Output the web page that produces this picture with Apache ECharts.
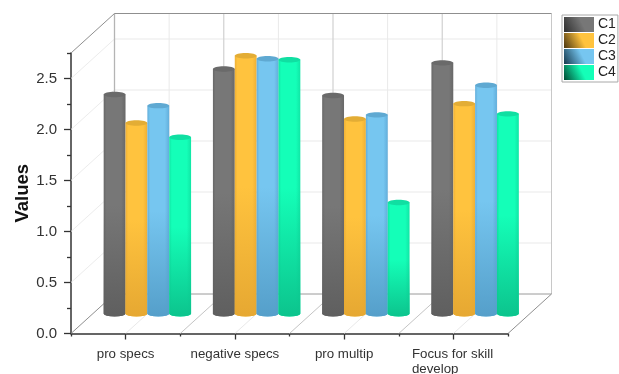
<!DOCTYPE html>
<html><head><meta charset="utf-8">
<style>html,body{margin:0;padding:0;background:#fff}#c{width:619px;height:374px}</style>
<script src="https://cdn.jsdelivr.net/npm/echarts@6/dist/echarts.min.js"></script>
</head><body><div id="c"></div>
<script>
const categories = ['pro specs', 'negative specs', 'pro multip', 'Focus for skill\ndevelop'];
const seriesNames = ['C1', 'C2', 'C3', 'C4'];
const C1 = [2.15, 2.40, 2.14, 2.46];
const C2 = [1.87, 2.53, 1.91, 2.06];
const C3 = [2.04, 2.50, 1.95, 2.24];
const C4 = [1.73, 2.49, 1.09, 1.96];
const seriesValues = [C1, C2, C3, C4];
const majorTicks = [0, 0.5, 1, 1.5, 2, 2.5];
const minorTicks = [0.25, 0.75, 1.25, 1.75, 2.25, 2.75];
const yMax = 2.75;

const palette = [
  {body:'#777777', edge:'#686868', shade:'#5f5f5f', cap:'#6a6a6a', dark:'#2e2e2e'},
  {body:'#ffc33e', edge:'#eeb035', shade:'#e6a832', cap:'#e3ad35', dark:'#4a3510'},
  {body:'#76c6f0', edge:'#62aedb', shade:'#559fca', cap:'#5fa9d2', dark:'#15384c'},
  {body:'#14ffb8', edge:'#10e6a5', shade:'#0cc48d', cap:'#10dfa2', dark:'#004a33'}
];
const depth = {x: 43.5, y: -39.5};
const G = echarts.graphic;

function line(x1, y1, x2, y2, stroke, w) {
  return {type:'line', shape:{x1, y1, x2, y2}, style:{stroke, lineWidth:w || 1}, silent:true};
}
function frame(params, api) {
  if (params.dataIndex !== 0) return null;
  const light = '#e9e9e9', mid = '#d4d4d4', edge = '#8f8f8f';
  const kids = [];
  const x0 = api.coord([0, 0])[0] - api.size([1, 0])[0] / 2;
  const step = api.size([1, 0])[0] / 2;
  const yZero = api.coord([0, 0])[1];
  const yTop = api.coord([0, yMax])[1];
  const n = categories.length * 2;
  const xEnd = x0 + step * n;
  majorTicks.slice(1).forEach(v => {
    const y = api.coord([0, v])[1];
    kids.push(line(x0, y, x0 + depth.x, y + depth.y, '#ececec'));
    kids.push(line(x0 + depth.x, y + depth.y, xEnd + depth.x, y + depth.y, light));
  });
  for (let i = 1; i < n; i++) {
    const x = x0 + step * i;
    const c = i % 2 ? light : mid;
    kids.push(line(x + depth.x, yTop + depth.y, x + depth.x, yZero + depth.y, c, i % 2 ? 1 : 1.3));
    kids.push(line(x, yZero, x + depth.x, yZero + depth.y, i % 2 ? light : '#c4c4c4'));
  }
  kids.push(line(x0 + depth.x, yTop + depth.y, x0 + depth.x, yZero + depth.y, '#b4b4b4', 1.3));
  kids.push(line(xEnd + depth.x, yTop + depth.y, xEnd + depth.x, yZero + depth.y, '#c8c8c8'));
  kids.push(line(x0, yTop, x0 + depth.x, yTop + depth.y, edge));
  kids.push(line(x0 + depth.x, yTop + depth.y, xEnd + depth.x, yTop + depth.y, edge, 1.2));
  kids.push(line(x0 + depth.x, yZero + depth.y, xEnd + depth.x, yZero + depth.y, '#9a9a9a'));
  kids.push(line(x0, yZero, x0 + depth.x, yZero + depth.y, edge));
  kids.push(line(xEnd, yZero, xEnd + depth.x, yZero + depth.y, edge));
  return {type:'group', children:kids};
}
function cylinder(si) {
  return function (params, api) {
    const p = palette[si];
    const cat = api.value(0), val = api.value(1);
    const bw = api.size([1, 0])[0] * 0.2;
    const top = api.coord([cat, val]);
    const base = api.coord([cat, 0]);
    const cx = top[0] + depth.x / 2 + (si - 1.5) * bw;
    const rx = bw / 2, ry = 2.7;
    const yT = top[1] + depth.y / 2, yB = base[1] + depth.y / 2;
    const bodyPath = `M${cx-rx} ${yT}L${cx-rx} ${yB}A${rx} ${ry} 0 0 0 ${cx+rx} ${yB}L${cx+rx} ${yT}Z`;
    return {type:'group', children:[
      {type:'path', shape:{pathData:bodyPath, layout:'cover', x:cx-rx, y:yT, width:bw, height:yB+ry-yT},
        style:{fill:new G.LinearGradient(0,0,1,0,[
          {offset:0,color:p.edge},{offset:0.12,color:p.body},{offset:0.8,color:p.body},{offset:1,color:p.edge}])}},
      {type:'path', shape:{pathData:bodyPath, layout:'cover', x:cx-rx, y:yT, width:bw, height:yB+ry-yT},
        style:{fill:new G.LinearGradient(0,0,0,1,[
          {offset:0,color:p.shade+'00'},{offset:0.5,color:p.shade+'00'},{offset:1,color:p.shade}])}},
      {type:'ellipse', shape:{cx, cy:yT, rx, ry}, style:{fill:p.cap}}
    ]};
  };
}
function toRows(vals) { return vals.map((v, i) => [i, v]); }

const series = [{
  type:'custom', name:'frame', data:[[0,0]], renderItem:frame, silent:true, z:1,
  encode:{x:0, y:1}
}].concat(seriesNames.map((name, si) => ({
  type:'custom', name, data:toRows(seriesValues[si]), renderItem:cylinder(si), z:3,
  encode:{x:0, y:1}, itemStyle:{color:palette[si].body}
})));

const chart = echarts.init(document.getElementById('c'), null, {renderer:'canvas'});
chart.setOption({
  animation:false,
  backgroundColor:'#fff',
  grid:{left:71, top:53, width:437, height:280.5, outerBoundsMode:'none'},
  legend:{
    left:562, top:15, orient:'vertical', padding:[2,2,2,2], itemGap:1,
    itemWidth:30, itemHeight:15, borderColor:'#a8a8a8', borderWidth:1, icon:'rect',
    textStyle:{fontFamily:'Liberation Sans', fontSize:14, color:'#222', padding:[0,0,0,-1]},
    data:seriesNames.map((name, i) => ({name, itemStyle:{
      color:new G.LinearGradient(0,1,1,0,[{offset:0,color:palette[i].dark},{offset:0.6,color:palette[i].body},{offset:1,color:palette[i].body}]),
      borderWidth:0
    }}))
  },
  xAxis:[{
    type:'category', data:categories, position:'bottom',
    axisLine:{show:true, lineStyle:{color:'#333', width:1.5}},
    axisTick:{show:true, alignWithLabel:true, length:6, lineStyle:{color:'#333', width:1.3}},
    axisLabel:{
      interval:0, margin:13, fontFamily:'Liberation Sans', fontSize:13.3, color:'#333', lineHeight:15,
      formatter:v => v.indexOf('\n') < 0 ? v : v.split('\n').map(s => '{l|' + s + '}').join('\n'),
      rich:{l:{width:83, align:'left', fontFamily:'Liberation Sans', fontSize:13.3, color:'#333', lineHeight:15}}
    },
    splitLine:{show:false}
  },{
    type:'category', data:categories, position:'bottom',
    axisLine:{show:false},
    axisTick:{show:true, length:3, lineStyle:{color:'#333', width:1.3}},
    axisLabel:{show:false}, splitLine:{show:false}
  }],
  yAxis:[{
    type:'value', min:0, max:yMax, interval:0.5,
    name:'Values', nameLocation:'middle', nameGap:39, nameMoveOverlap:false,
    nameTextStyle:{fontFamily:'Liberation Sans', fontSize:18.5, fontWeight:'bold', color:'#111'},
    axisLine:{show:true, onZero:false, lineStyle:{color:'#333', width:1.5}},
    axisTick:{show:true, length:7, customValues:majorTicks, lineStyle:{color:'#333', width:1.3}},
    axisLabel:{customValues:majorTicks, margin:14, fontFamily:'Liberation Sans', fontSize:15, color:'#333',
      formatter:v => v.toFixed(1)},
    splitLine:{show:false}
  },{
    type:'value', min:0, max:yMax, position:'left',
    axisLine:{show:false},
    axisTick:{show:true, length:4, customValues:minorTicks, lineStyle:{color:'#333', width:1.3}},
    axisLabel:{show:false}, splitLine:{show:false}
  }],
  series
});
</script></body></html>
